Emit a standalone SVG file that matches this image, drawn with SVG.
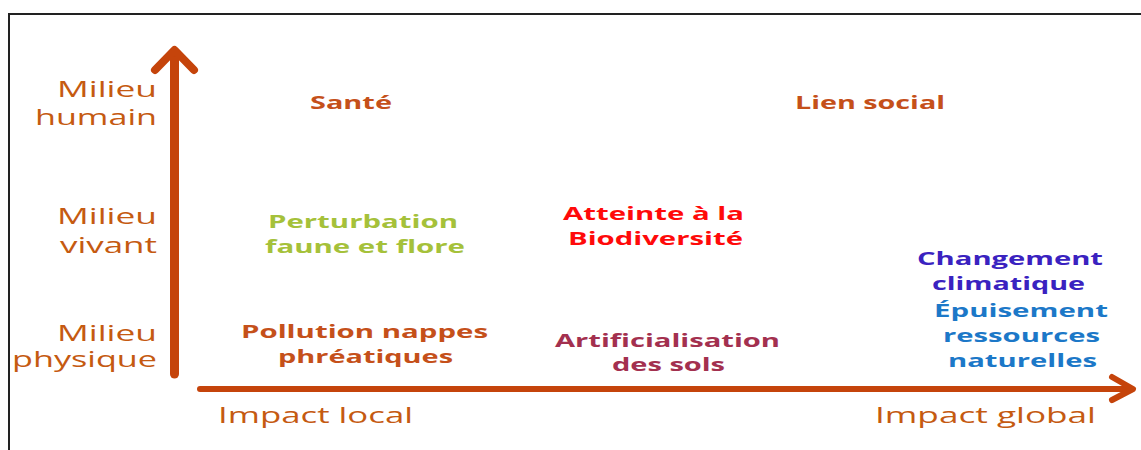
<svg xmlns="http://www.w3.org/2000/svg" width="1141" height="450" viewBox="0 0 1141 450">
<style>
.ax{font-family:"Open Sans","DejaVu Sans",sans-serif;font-size:21px;fill:#C55A11}
.b{font-family:"Open Sans","DejaVu Sans",sans-serif;font-size:18px;font-weight:bold}
.or{fill:#C5501A}
.gr{fill:#A5C13A}
.rd{fill:#FF0A0A}
.pk{fill:#A3304F}
.pu{fill:#3A22C0}
.bl{fill:#1C78C8}
.arr{stroke:#C5440B;fill:none;stroke-linecap:round;stroke-linejoin:round}
</style>
<rect width="1141" height="450" fill="#fff"/>
<path d="M9 450 V14 H1141" fill="none" stroke="#222" stroke-width="2"/>
<g id="connectors">
<path class="arr" d="M174.5 374 V52" stroke-width="9" stroke-linecap="butt"/>
<path class="arr" d="M155 70 L174.5 50 L194 70" stroke-width="8"/>
<path class="arr" d="M200 389 H1130" stroke-width="6" stroke-linecap="butt"/>
<path class="arr" d="M1112 377 L1133 389 L1112 400" stroke-width="6"/>
</g>
<g id="axis-y">
<text class="ax" x="57" y="97" textLength="100" lengthAdjust="spacingAndGlyphs">Milieu</text>
<text class="ax" x="35" y="125" textLength="122" lengthAdjust="spacingAndGlyphs">humain</text>
<text class="ax" x="57" y="224" textLength="100" lengthAdjust="spacingAndGlyphs">Milieu</text>
<text class="ax" x="60" y="253" textLength="97" lengthAdjust="spacingAndGlyphs">vivant</text>
<text class="ax" x="57" y="341" textLength="100" lengthAdjust="spacingAndGlyphs">Milieu</text>
<text class="ax" x="12" y="367" textLength="145" lengthAdjust="spacingAndGlyphs">physique</text>
</g>
<g id="axis-x">
<text class="ax" x="218" y="423" textLength="195" lengthAdjust="spacingAndGlyphs">Impact local</text>
<text class="ax" x="875" y="423" textLength="221" lengthAdjust="spacingAndGlyphs">Impact global</text>
</g>
<g id="sante"><text class="b or" x="310" y="109" textLength="82" lengthAdjust="spacingAndGlyphs">Santé</text></g>
<g id="lien-social"><text class="b or" x="795" y="109" textLength="150" lengthAdjust="spacingAndGlyphs">Lien social</text></g>
<g id="perturbation">
<text class="b gr" x="268" y="228" textLength="190" lengthAdjust="spacingAndGlyphs">Perturbation</text>
<text class="b gr" x="265" y="253" textLength="200" lengthAdjust="spacingAndGlyphs">faune et flore</text>
</g>
<g id="biodiversite">
<text class="b rd" x="563" y="220" textLength="181" lengthAdjust="spacingAndGlyphs">Atteinte à la</text>
<text class="b rd" x="568" y="245" textLength="175" lengthAdjust="spacingAndGlyphs">Biodiversité</text>
</g>
<g id="pollution">
<text class="b or" x="241" y="338" textLength="247" lengthAdjust="spacingAndGlyphs">Pollution nappes</text>
<text class="b or" x="278" y="363" textLength="175" lengthAdjust="spacingAndGlyphs">phréatiques</text>
</g>
<g id="artificialisation">
<text class="b pk" x="555" y="347" textLength="225" lengthAdjust="spacingAndGlyphs">Artificialisation</text>
<text class="b pk" x="612" y="371" textLength="113" lengthAdjust="spacingAndGlyphs">des sols</text>
</g>
<g id="changement">
<text class="b pu" x="917" y="265" textLength="186" lengthAdjust="spacingAndGlyphs">Changement</text>
<text class="b pu" x="932" y="290" textLength="153" lengthAdjust="spacingAndGlyphs">climatique</text>
</g>
<g id="epuisement">
<text class="b bl" x="934" y="317" textLength="174" lengthAdjust="spacingAndGlyphs">Épuisement</text>
<text class="b bl" x="943" y="342" textLength="157" lengthAdjust="spacingAndGlyphs">ressources</text>
<text class="b bl" x="948" y="367" textLength="149" lengthAdjust="spacingAndGlyphs">naturelles</text>
</g>
</svg>
